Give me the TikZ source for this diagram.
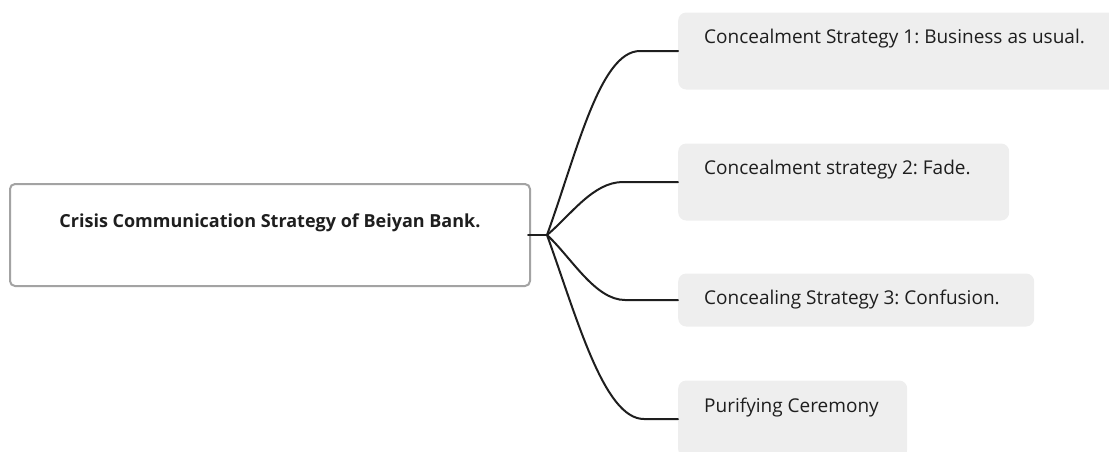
\documentclass[tikz,border=0pt]{standalone}
\usepackage{fontspec}
\setmainfont{Open Sans}
\usepackage{tikz}
\usetikzlibrary{positioning}
\definecolor{leafgray}{HTML}{EEEEEE}
\definecolor{rootgray}{HTML}{A3A3A3}
\definecolor{inkdark}{HTML}{1E1E1E}
\frenchspacing
\tikzset{
  rootbox/.style={draw=rootgray, line width=2pt, rounded corners=5pt, fill=white,
    minimum width=520pt, minimum height=102pt, inner sep=0pt},
  leafbox/.style={fill=leafgray, rounded corners=8pt, minimum height=77pt,
    inner sep=0pt, anchor=west},
  leaftext/.style={anchor=west, inner sep=0pt, font=\fontsize{19}{22}\selectfont, text=inkdark},
  branch/.style={draw=inkdark, line width=2pt, line cap=round}
}
\begin{document}
\begin{tikzpicture}[x=1pt,y=-1pt]
		\useasboundingbox (0,0) rectangle (1109,451);
		
		% root
		\node[rootbox] (root) at (270,235) {};
		\node[inner sep=0pt, font=\bfseries\fontsize{18}{21}\selectfont, text=inkdark]
		  (roottext) at ([yshift=-40pt]root.north) {Crisis Communication Strategy of Beiyan Bank.};
		
		% leaves
		\node[leafbox, minimum width=440pt] (s1) at (678,51) {};
		\node[leafbox, minimum width=331pt] (s2) at (678,182) {};
		\node[leafbox, minimum width=356pt, minimum height=53pt] (s3) at (678,300) {};
		\node[leafbox, minimum width=229pt] (s4) at (678,419) {};
		
		\node[leaftext] (t1) at ([xshift=26pt,yshift=-26pt]s1.north west) {Concealment Strategy 1: Business as usual.};
		\node[leaftext] (t2) at ([xshift=26pt,yshift=-26pt]s2.north west) {Concealment strategy 2: Fade.};
		\node[leaftext] (t3) at ([xshift=26pt,yshift=-26pt]s3.north west) {Concealing Strategy 3: Confusion.};
		\node[leaftext] (t4) at ([xshift=26pt,yshift=-27pt]s4.north west) {Purifying Ceremony};
		
		\coordinate (hub) at ([xshift=16pt]root.east);
		\draw[branch] ([xshift=-3pt]root.east) -- (hub);
		
		\draw[branch] (hub) .. controls +(30,-83) and +(-40,0) .. ([xshift=-38pt]s1.west) -- (s1.west);
		\draw[branch] (hub) .. controls +(24,-20) and +(-30,0) .. ([xshift=-55pt]s2.west) -- (s2.west);
		\draw[branch] (hub) .. controls +(24,22) and +(-30,0) .. ([xshift=-53pt]s3.west) -- (s3.west);
		\draw[branch] (hub) .. controls +(30,83) and +(-40,0) .. ([xshift=-34pt]s4.west) -- (s4.west);
	\end{tikzpicture}
\end{document}
